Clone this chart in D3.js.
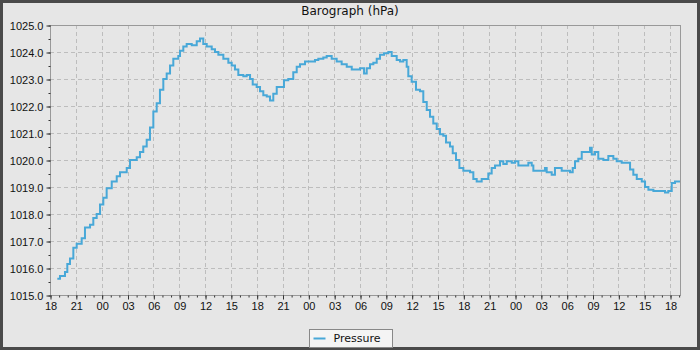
<!DOCTYPE html>
<html lang="en">
<head>
<meta charset="UTF-8">
<title>Barograph</title>
<script src="https://d3js.org/d3.v7.min.js"></script>
<style>
  body { margin: 0; background: #fff; }
  svg { display: block; font-family: "DejaVu Sans", sans-serif; }
</style>
</head>
<body>
<div id="chart"></div>
<script>
// -- data: hours since the first 18:00, pressure in hPa --
const hours = [0.85, 1.16, 1.74, 2.01, 2.32, 2.71, 3.10, 3.68, 4.06, 4.65, 5.03, 5.42, 5.81, 6.19, 6.58, 7.17, 7.75, 8.13, 8.91, 9.29,
  10.07, 10.45, 10.83, 11.23, 11.61, 12.0, 12.39, 12.77, 13.16, 13.55, 13.94, 14.32, 14.9, 15.1, 15.48, 15.87, 16.46, 17.04, 17.42, 17.8,
  18.2, 18.78, 19.16, 19.55, 20.13, 20.71, 21.1, 21.48, 21.87, 22.45, 22.84, 23.23, 23.54, 24.0, 24.39, 24.77, 25.17, 25.55, 25.93, 26.33,
  26.91, 27.17, 27.67, 28.25, 28.65, 29.03, 29.61, 30.19, 30.77, 31.16, 31.74, 32.13, 32.71, 33.29, 33.87, 34.46, 35.04, 35.62, 36.0, 36.47,
  36.78, 37.16, 37.55, 37.94, 38.32, 38.79, 39.29, 39.68, 40.26, 40.65, 41.03, 41.42, 41.61, 42.0, 42.5, 42.97, 43.35, 43.75, 44.13, 44.51,
  44.91, 45.29, 45.67, 45.99, 46.45, 46.77, 47.15, 47.54, 48.0, 48.78, 49.16, 49.55, 50.13, 50.71, 50.9, 51.29, 51.68, 52.26, 52.64, 53.04,
  53.62, 54.0, 54.39, 54.97, 55.55, 55.94, 56.13, 56.9, 57.48, 57.68, 58.26, 58.64, 59.23, 59.42, 60.19, 60.39, 60.7, 60.97, 61.35, 61.75,
  62.33, 62.71, 62.91, 63.29, 63.67, 64.26, 64.84, 65.42, 65.81, 66.39, 66.97, 67.36, 67.74, 68.14, 68.72, 69.1, 69.49, 70.07, 70.84, 71.42,
  71.8, 72.2, 72.58, 73.16];
const pressure = [1015.6, 1015.7, 1015.85, 1016.15, 1016.35, 1016.75, 1016.9, 1017.1, 1017.5, 1017.6, 1017.85, 1018.0, 1018.35, 1018.6, 1018.95, 1019.2, 1019.4, 1019.55, 1019.7, 1020.0,
  1020.1, 1020.3, 1020.5, 1020.75, 1021.2, 1021.8, 1022.1, 1022.6, 1023.0, 1023.2, 1023.5, 1023.75, 1023.85, 1024.05, 1024.2, 1024.3, 1024.25, 1024.4, 1024.5, 1024.3,
  1024.2, 1024.1, 1024.0, 1023.9, 1023.75, 1023.6, 1023.5, 1023.35, 1023.15, 1023.1, 1023.15, 1023.0, 1022.8, 1022.7, 1022.55, 1022.4, 1022.35, 1022.2, 1022.45, 1022.7,
  1022.7, 1022.95, 1023.0, 1023.25, 1023.45, 1023.55, 1023.65, 1023.65, 1023.7, 1023.75, 1023.8, 1023.85, 1023.75, 1023.65, 1023.55, 1023.45, 1023.35, 1023.35, 1023.4, 1023.2,
  1023.4, 1023.55, 1023.6, 1023.75, 1023.9, 1023.95, 1024.0, 1023.85, 1023.7, 1023.65, 1023.7, 1023.45, 1023.1, 1022.9, 1022.6, 1022.55, 1022.15, 1021.85, 1021.6, 1021.35,
  1021.15, 1020.95, 1020.9, 1020.65, 1020.5, 1020.25, 1020.0, 1019.7, 1019.6, 1019.55, 1019.3, 1019.2, 1019.3, 1019.3, 1019.5, 1019.7, 1019.8, 1019.95, 1019.85, 1019.95,
  1019.9, 1019.95, 1019.8, 1019.8, 1019.9, 1019.8, 1019.6, 1019.6, 1019.7, 1019.55, 1019.45, 1019.7, 1019.7, 1019.6, 1019.6, 1019.55, 1019.7, 1019.95, 1020.05, 1020.3,
  1020.3, 1020.45, 1020.2, 1020.3, 1020.05, 1020.0, 1020.15, 1020.05, 1019.95, 1019.9, 1019.9, 1019.65, 1019.45, 1019.3, 1019.2, 1019.0, 1018.9, 1018.85, 1018.85, 1018.8,
  1018.85, 1019.15, 1019.2, 1019.2];
const yTicks = [1015, 1016, 1017, 1018, 1019, 1020, 1021, 1022, 1023, 1024, 1025];
const seriesName = "Pressure";
const title = "Barograph (hPa)";

const width = 700, height = 350;
const margin = {top: 25, right: 20, bottom: 55, left: 50};
const start = new Date(2024, 0, 1, 18, 0);
const toDate = h => new Date(start.getTime() + h * 3600e3);
const data = hours.map((h, i) => ({t: toDate(h), p: pressure[i]}));

const svg = d3.select("#chart").append("svg")
  .attr("width", width)
  .attr("height", height);

// fond + cadre extérieur
svg.append("rect")
  .attr("x", 1.5).attr("y", 1.5)
  .attr("width", width - 3).attr("height", height - 3)
  .attr("fill", "#e6e6e6")
  .attr("stroke", "#4a4a4a")
  .attr("stroke-width", 3);

const x = d3.scaleTime()
  .domain([start, toDate(hours[hours.length - 1])])
  .range([margin.left, width - margin.right]);
const y = d3.scaleLinear()
  .domain([1015, 1025])
  .range([height - margin.bottom, margin.top]);

// grille
const grid = svg.append("g")
  .attr("stroke", "#bdbdbd")
  .attr("stroke-dasharray", "4,3");
grid.selectAll("line.v")
  .data(x.ticks(d3.timeHour.every(3)).filter(d => x(d) > margin.left))
  .join("line")
  .attr("class", "v")
  .attr("x1", d => Math.round(x(d)) + 0.5).attr("x2", d => Math.round(x(d)) + 0.5)
  .attr("y1", margin.top).attr("y2", height - margin.bottom);
grid.selectAll("line.h")
  .data(yTicks.slice(1, -1))
  .join("line")
  .attr("class", "h")
  .attr("y1", d => Math.round(y(d)) + 0.5).attr("y2", d => Math.round(y(d)) + 0.5)
  .attr("x1", margin.left).attr("x2", width - margin.right);

// cadre du graphe
svg.append("rect")
  .attr("x", margin.left + 0.5).attr("y", margin.top + 0.5)
  .attr("width", width - margin.left - margin.right)
  .attr("height", height - margin.top - margin.bottom)
  .attr("fill", "none")
  .attr("stroke", "#999");

// axes
const xMinor = svg.append("g")
  .attr("transform", `translate(0.5,${height - margin.bottom + 0.5})`)
  .call(d3.axisBottom(x).ticks(d3.timeHour.every(1)).tickSize(2).tickFormat(""));
const xAxis = svg.append("g")
  .attr("transform", `translate(0.5,${height - margin.bottom + 0.5})`)
  .call(d3.axisBottom(x).ticks(d3.timeHour.every(3)).tickSize(4).tickPadding(3)
    .tickFormat(d3.timeFormat("%H")));
const yMinor = svg.append("g")
  .attr("transform", `translate(${margin.left + 0.5},0.5)`)
  .call(d3.axisLeft(y).ticks(20).tickSize(2).tickFormat(""));
const yAxis = svg.append("g")
  .attr("transform", `translate(${margin.left + 0.5},0.5)`)
  .call(d3.axisLeft(y).tickValues(yTicks).tickSize(4).tickPadding(3)
    .tickFormat(d3.format(".1f")));

[xMinor, xAxis, yMinor, yAxis].forEach(g => {
  g.select(".domain").remove();
  g.selectAll(".tick line").attr("stroke", "#333");
  g.selectAll("text").attr("fill", "#111").style("font-size", "11px");
});

// courbe
const line = d3.line()
  .x(d => x(d.t))
  .y(d => y(d.p))
  .curve(d3.curveStepAfter);
svg.append("path")
  .datum(data)
  .attr("fill", "none")
  .attr("stroke", "#48a8d8")
  .attr("stroke-width", 2)
  .attr("d", line);

// titre
svg.append("text")
  .attr("x", width / 2).attr("y", 15)
  .attr("text-anchor", "middle")
  .style("font-size", "12px")
  .attr("fill", "#111")
  .text(title);

// légende
const leg = svg.append("g").attr("transform", "translate(309.5,329.5)");
leg.append("rect")
  .attr("width", 83).attr("height", 18)
  .attr("fill", "#f4f4f4")
  .attr("stroke", "#888");
leg.append("line")
  .attr("x1", 4).attr("x2", 16)
  .attr("y1", 9).attr("y2", 9)
  .attr("stroke", "#48a8d8").attr("stroke-width", 2);
leg.append("text")
  .attr("x", 24).attr("y", 12.5)
  .style("font-size", "11px")
  .attr("fill", "#111")
  .text(seriesName);
</script>
</body>
</html>
